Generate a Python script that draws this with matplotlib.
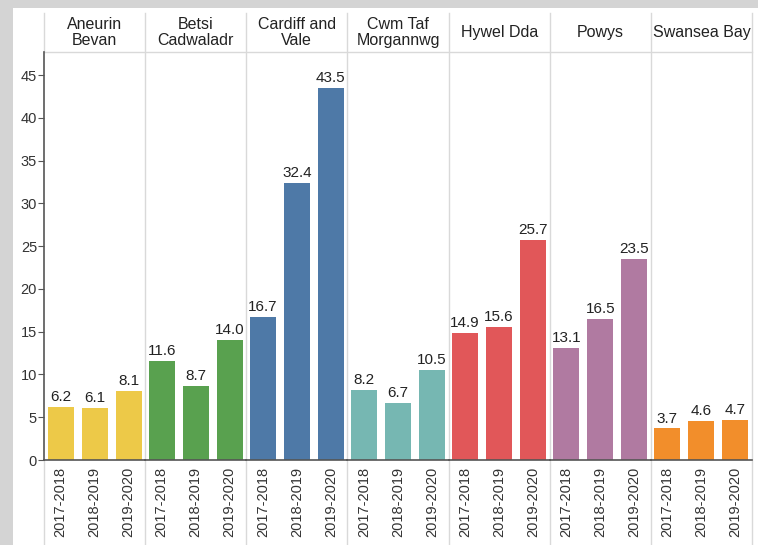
import matplotlib
matplotlib.use("Agg")
import matplotlib.pyplot as plt
from matplotlib.patches import Rectangle
from matplotlib.lines import Line2D

plt.rcParams['font.family'] = ['Liberation Sans', 'DejaVu Sans']

boards = ['Aneurin\nBevan', 'Betsi\nCadwaladr', 'Cardiff and\nVale', 'Cwm Taf\nMorgannwg',
          'Hywel Dda', 'Powys', 'Swansea Bay']
years = ['2017-2018', '2018-2019', '2019-2020']
values = [
    [6.2, 6.1, 8.1],
    [11.6, 8.7, 14.0],
    [16.7, 32.4, 43.5],
    [8.2, 6.7, 10.5],
    [14.9, 15.6, 25.7],
    [13.1, 16.5, 23.5],
    [3.7, 4.6, 4.7],
]
colors = ['#EDC948', '#59A14F', '#4E79A7', '#76B7B2', '#E15759', '#B07AA1', '#F28E2B']
yticks = [0, 5, 10, 15, 20, 25, 30, 35, 40, 45]

W, H = 758, 545
fig = plt.figure(figsize=(W / 100, H / 100), dpi=100, facecolor='#d4d4d4')


def fx(x):
    return x / W


def fy(y):
    return 1 - y / H


# white card
fig.patches.append(Rectangle((fx(13), 0), 1 - fx(13), fy(8), transform=fig.transFigure,
                             facecolor='white', edgecolor='none', zorder=-3))

left, right = 44, 752
top_hdr, top, zero = 13, 52, 460
pw = (right - left) / len(boards)
grid_c = '#d9d9d9'

# header bottom line
fig.lines.append(Line2D([fx(left), fx(right)], [fy(top), fy(top)], transform=fig.transFigure,
                        color=grid_c, lw=1, zorder=-2))

for i in range(len(boards) + 1):
    x = left + i * pw
    if i == 0:
        segs = [(top_hdr, top), (zero, H)]
    else:
        segs = [(top_hdr, H)]
    for y0, y1 in segs:
        fig.lines.append(Line2D([fx(x), fx(x)], [fy(y0), fy(y1)], transform=fig.transFigure,
                                color=grid_c, lw=1, zorder=-2))

ymax = (zero - top) / ((zero - 75) / 45)

for i, (name, vals, col) in enumerate(zip(boards, values, colors)):
    x0 = left + i * pw
    ax = fig.add_axes([fx(x0), fy(zero), pw / W, (zero - top) / H])
    ax.set_facecolor('none')
    xs = range(len(years))
    bars = ax.bar(xs, vals, width=0.765, color=col)
    for b, v in zip(bars, vals):
        ax.annotate(f'{v:.1f}', (b.get_x() + b.get_width() / 2, v), xytext=(0, 2),
                    textcoords='offset points', ha='center', va='bottom',
                    fontsize=11, color='#222222')
    half = pw / 34 / 2
    ax.set_xlim(1 - half, 1 + half)
    ax.set_ylim(0, ymax)
    for s in ['top', 'right']:
        ax.spines[s].set_visible(False)
    ax.spines['bottom'].set_color('#555555')
    ax.spines['bottom'].set_linewidth(1.2)
    ax.set_xticks(list(xs))
    ax.set_xticklabels(years, rotation=90, fontsize=10.5, color='#333333')
    ax.tick_params(axis='x', length=0, pad=5)
    if i == 0:
        ax.spines['left'].set_color('#555555')
        ax.spines['left'].set_linewidth(1.2)
        ax.set_yticks(yticks)
        ax.tick_params(axis='y', length=4, color='#555555', labelsize=10.5,
                       labelcolor='#333333', pad=1)
    else:
        ax.spines['left'].set_visible(False)
        ax.set_yticks([])
    fig.text(fx(x0 + pw / 2), fy(32.5), name, ha='center', va='center', multialignment='center',
             fontsize=11.5, color='#222222', linespacing=1.1)

fig.savefig('out.png', dpi=100, facecolor=fig.get_facecolor())
